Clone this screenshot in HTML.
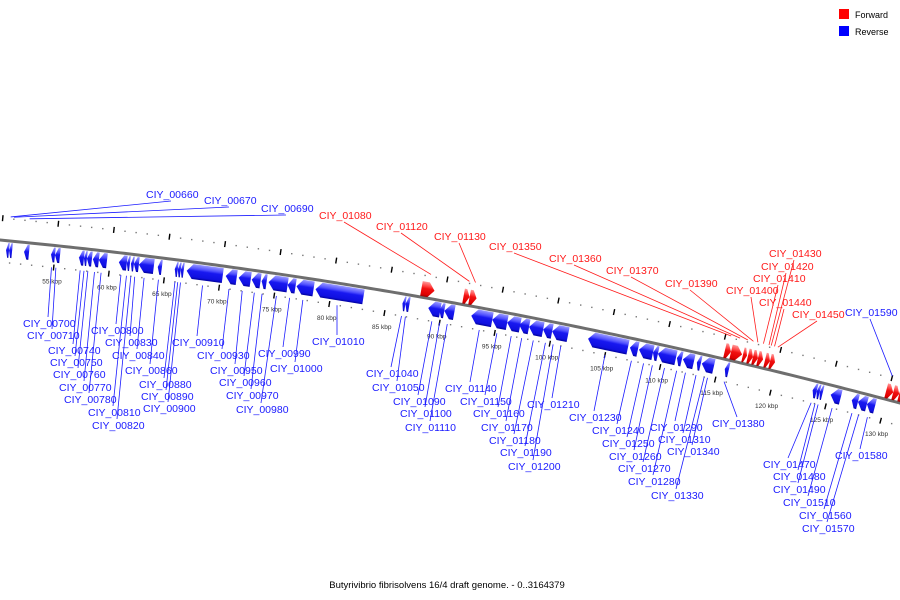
<!DOCTYPE html>
<html><head><meta charset="utf-8"><style>
html,body{margin:0;padding:0;background:#fff;}
svg{display:block;font-family:"Liberation Sans",sans-serif;}
</style></head><body>
<svg id="chart" width="900" height="600" viewBox="0 0 900 600">
<defs>
<linearGradient id="gb" x1="0" y1="0" x2="0" y2="1"><stop offset="0" stop-color="#9a9aff"/><stop offset="0.3" stop-color="#5050ff"/><stop offset="0.45" stop-color="#1818f0"/><stop offset="0.85" stop-color="#1010e0"/><stop offset="1" stop-color="#00009a"/></linearGradient>
<linearGradient id="gr" x1="0" y1="0" x2="0" y2="1"><stop offset="0" stop-color="#ff9a9a"/><stop offset="0.3" stop-color="#ff4040"/><stop offset="0.45" stop-color="#f01010"/><stop offset="0.85" stop-color="#e00000"/><stop offset="1" stop-color="#9a0000"/></linearGradient>
</defs>
<g id="ticks"></g>
<g id="leaders"></g>
<path id="backbone" fill="none" stroke="#6e6e6e" stroke-width="3"/>
<g id="genes"></g>
<g id="labels"></g>
<g>
<rect x="839" y="9" width="10" height="10" fill="#ff0000"/>
<text x="855" y="18" font-size="9" fill="#000">Forward</text>
<rect x="839" y="26" width="10" height="10" fill="#0000ff"/>
<text x="855" y="35" font-size="9" fill="#000">Reverse</text>
</g>
<text x="447" y="588" font-size="9.5" text-anchor="middle" fill="#000">Butyrivibrio fibrisolvens 16/4 draft genome. - 0..3164379</text>
</svg>
<script>
const geneStart=[50.57,50.84,52.2,54.64,55.0,57.17,57.62,57.89,58.43,58.97,60.78,61.5,61.87,62.14,62.59,64.3,65.84,66.11,66.38,66.92,70.45,71.62,72.8,73.7,74.33,76.05,76.86,78.58,86.44,86.71,88.78,89.78,90.23,92.67,94.57,95.92,97.0,97.9,99.17,99.99,103.24,107.03,107.85,109.11,109.56,111.28,111.82,113.08,113.53,115.61,123.56,123.92,124.2,125.19,127.1,127.66,128.47,
87.88,91.68,92.22,115.25,115.8,116.88,117.33,117.78,118.23,118.87,119.32,129.8,130.43,130.97];
const geneEnd=[50.84,51.12,52.65,55.0,55.45,57.62,57.89,58.34,58.97,59.7,61.5,61.78,62.14,62.59,63.94,64.67,66.11,66.38,66.65,70.18,71.44,72.71,73.6,74.15,76.05,76.77,78.4,82.91,86.71,87.07,89.87,90.23,91.13,94.57,95.92,97.1,97.9,99.17,99.99,101.43,106.85,107.75,109.11,109.56,111.19,111.73,112.81,113.44,114.62,115.97,123.92,124.2,124.47,126.1,127.66,128.47,129.2,
89.06,92.22,92.85,115.8,116.8,117.24,117.78,118.23,118.69,119.32,119.77,130.43,130.97,131.6];
const geneStrand=[-1,-1,-1,-1,-1,-1,-1,-1,-1,-1,-1,-1,-1,-1,-1,-1,-1,-1,-1,-1,-1,-1,-1,-1,-1,-1,-1,-1,-1,-1,-1,-1,-1,-1,-1,-1,-1,-1,-1,-1,-1,-1,-1,-1,-1,-1,-1,-1,-1,-1,-1,-1,-1,-1,-1,-1,-1,
1,1,1,1,1,1,1,1,1,1,1,1,1,1];
const labelNames=["CIY_00660","CIY_00670","CIY_00690","CIY_00700","CIY_00710","CIY_00740","CIY_00750","CIY_00760","CIY_00770","CIY_00780","CIY_00800","CIY_00810","CIY_00820","CIY_00830","CIY_00840","CIY_00860","CIY_00880","CIY_00890","CIY_00900","CIY_00910","CIY_00930","CIY_00950","CIY_00960","CIY_00970","CIY_00980","CIY_00990","CIY_01000","CIY_01010",
"CIY_01040","CIY_01050","CIY_01090","CIY_01100","CIY_01110","CIY_01140","CIY_01150","CIY_01160","CIY_01170","CIY_01180","CIY_01190","CIY_01200","CIY_01210","CIY_01230","CIY_01240","CIY_01250","CIY_01260","CIY_01270","CIY_01280","CIY_01290","CIY_01310","CIY_01330","CIY_01340","CIY_01380",
"CIY_01470","CIY_01480","CIY_01490","CIY_01510","CIY_01560","CIY_01570","CIY_01580","CIY_01590",
"CIY_01080","CIY_01120","CIY_01130","CIY_01350","CIY_01360","CIY_01370","CIY_01390","CIY_01400","CIY_01410","CIY_01420","CIY_01430","CIY_01440","CIY_01450"];
const labelKbp=[50.7,51.0,52.4,54.8,55.2,57.4,57.75,58.1,58.7,59.3,61.1,61.6,62.0,62.35,63.2,64.5,66.0,66.25,66.5,68.5,70.9,72.1,73.2,73.9,75.2,76.4,77.6,80.7,
86.55,86.9,89.3,90.0,90.7,93.6,95.2,96.5,97.45,98.5,99.6,100.3,101.0,105.0,107.4,108.5,109.3,110.4,111.5,112.3,113.26,114.0,114.3,115.8,
123.7,124.05,124.33,125.6,127.4,128.0,128.8,130.0,
88.5,91.95,92.5,115.5,116.3,117.0,117.5,117.9,118.4,118.9,119.1,119.4,119.7];
const labelSide=[-1,-1,-1,1,1,1,1,1,1,1,1,1,1,1,1,1,1,1,1,1,1,1,1,1,1,1,1,1,
1,1,1,1,1,1,1,1,1,1,1,1,1,1,1,1,1,1,1,1,1,1,1,1,
1,1,1,1,1,1,1,-1,
-1,-1,-1,-1,-1,-1,-1,-1,-1,-1,-1,-1,-1];
const labelX=[146,204,261,23,27,48,50,53,59,64,91,88,92,105,112,125,139,141,143,172,197,210,219,226,236,258,270,312,
366,372,393,400,405,445,460,473,481,489,500,508,527,569,592,602,609,618,628,650,658,651,667,712,
763,773,773,783,799,802,835,845,
319,376,434,489,549,606,665,726,753,761,769,759,792];
const labelY=[198,204,212,327,339,354,366,378,391,403,334,416,429,346,359,374,388,400,412,346,359,374,386,399,413,357,372,345,
377,391,405,417,431,392,405,417,431,444,456,470,408,421,434,447,460,472,485,431,443,499,455,427,
468,480,493,506,519,532,459,316,
219,230,240,250,262,274,287,294,282,270,257,306,318];
const tickLabels=["55 kbp","60 kbp","65 kbp","70 kbp","75 kbp","80 kbp","85 kbp","90 kbp","95 kbp","100 kbp","105 kbp","110 kbp","115 kbp","120 kbp","125 kbp","130 kbp"];
const tickKbp=[55,60,65,70,75,80,85,90,95,100,105,110,115,120,125,130];

const NS="http://www.w3.org/2000/svg";
function xOf(k){return 56+(k-55)*11.07;}
function yOf(x){return 240+0.0954*x+9.53e-5*x*x;}
function slope(x){return 0.0954+2*9.53e-5*x;}
function pt(k,d){const x=xOf(k),s=slope(x),L=Math.sqrt(1+s*s);return [x-s/L*d,yOf(x)+d/L];}
function mk(tag,attrs,parent){const e=document.createElementNS(NS,tag);for(const a in attrs)e.setAttribute(a,attrs[a]);parent.appendChild(e);return e;}

let dp="";for(let x=-5;x<=905;x+=5){dp+=(x===-5?"M":"L")+x+","+yOf(x).toFixed(2)+" ";}
document.getElementById("backbone").setAttribute("d",dp);

const tg=document.getElementById("ticks");
for(let k=50;k<=132;k++){
  for(const d of [-22,22]){
    if(k%5===0){const a=pt(k,d-3),b=pt(k,d+3);
      const t=mk("line",{x1:a[0],y1:a[1],x2:b[0],y2:b[1],stroke:"#000","stroke-width":1.4},tg);
      
      
    } else {const a=pt(k,d);
      const t=mk("rect",{x:a[0]-0.7,y:a[1]-0.7,width:1.4,height:1.4,fill:"#777"},tg);
      
      
    }
  }
}
tickKbp.forEach((k,i)=>{const a=pt(k,38);
  const t=mk("text",{x:a[0],y:a[1],"font-size":6.5,"text-anchor":"middle",fill:"#333"},tg);
  t.textContent=tickLabels[i];
  
  
});

const gg=document.getElementById("genes");
geneStart.forEach((s,i)=>{
  const e=geneEnd[i],st=geneStrand[i];
  const p1=pt(s,0),p2=pt(e,0);
  const len=Math.hypot(p2[0]-p1[0],p2[1]-p1[1]);
  const ang=Math.atan2(p2[1]-p1[1],p2[0]-p1[0])*180/Math.PI;
  const d1=st<0?2:-16,d2=st<0?17:-1;
  const tip=Math.min(6,len*0.6);
  let pts;
  if(st<0) pts=[[0,(d1+d2)/2],[tip,d1],[len,d1],[len,d2],[tip,d2]];
  else pts=[[0,d1],[len-tip,d1],[len,(d1+d2)/2],[len-tip,d2],[0,d2]];
  const g=mk("g",{transform:`translate(${p1[0].toFixed(2)},${p1[1].toFixed(2)}) rotate(${ang.toFixed(2)})`},gg);
  
  
  mk("polygon",{points:pts.map(p=>p[0].toFixed(2)+","+p[1].toFixed(2)).join(" "),fill:st<0?"url(#gb)":"url(#gr)"},g);
});

const lg=document.getElementById("labels"),ll=document.getElementById("leaders");
labelNames.forEach((n,i)=>{
  const red=i>=60;
  const col=red?"#ff1a1a":"#1a1aff";
  const side=labelSide[i];
  const a=pt(labelKbp[i],side>0?22:-24);
  const sx=labelX[i]+25,sy=side>0?labelY[i]-10:labelY[i]+3;
  const l=mk("line",{x1:sx,y1:sy,x2:a[0].toFixed(2),y2:a[1].toFixed(2),stroke:col,"stroke-width":0.8},ll);
  
  
  const t=mk("text",{x:labelX[i],y:labelY[i],"font-size":10.5,fill:col},lg);
  t.textContent=n;
  
  
});
</script>
</body></html>
